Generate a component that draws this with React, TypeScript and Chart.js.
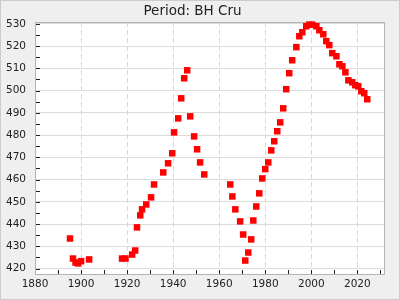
import React, { useEffect, useRef } from "react";
import { Chart, registerables } from "chart.js";

Chart.register(...registerables);

const TITLE = "Period: BH Cru";

const years = [
  1895.2, 1896.5, 1897.6, 1898.7, 1900.0, 1903.5, 1917.8, 1919.3, 1922.2, 1923.5,
  1924.3, 1925.7, 1926.5, 1928.3, 1930.4, 1931.7, 1935.7, 1937.8, 1939.6, 1940.4,
  1942.2, 1943.5, 1944.8, 1946.1, 1947.4, 1949.1, 1950.4, 1951.7, 1953.5, 1964.8,
  1965.7, 1967.0, 1969.1, 1970.4, 1971.3, 1972.6, 1973.9, 1974.8, 1976.1, 1977.4,
  1978.7, 1980.0, 1981.3, 1982.6, 1983.9, 1985.2, 1986.5, 1987.8, 1989.1, 1990.4,
  1991.7, 1993.5, 1994.8, 1996.1, 1997.8, 1999.1, 2000.4, 2002.2, 2003.5, 2005.2,
  2006.5, 2007.8, 2009.1, 2010.9, 2012.2, 2013.5, 2014.8, 2016.1, 2017.8, 2019.1,
  2020.4, 2021.7, 2023.0, 2024.3,
];

const periods = [
  433.5, 424.5, 422.7, 422.3, 423.3, 424.1, 424.5, 424.5, 426.3, 428.1,
  438.5, 443.9, 446.6, 448.8, 452.0, 457.8, 463.2, 467.3, 471.8, 481.2,
  487.5, 496.5, 505.5, 509.1, 488.4, 479.4, 473.6, 467.7, 462.3, 457.8,
  452.4, 446.6, 441.2, 435.3, 423.6, 427.2, 433.1, 441.6, 447.9, 453.8,
  460.5, 464.7, 467.7, 473.1, 477.2, 481.7, 485.7, 492.0, 500.6, 507.8,
  513.6, 519.5, 524.4, 526.2, 528.9, 529.6, 529.6, 528.9, 527.1, 525.3,
  522.2, 520.4, 516.8, 515.4, 511.8, 510.9, 508.2, 504.6, 503.7, 502.4,
  501.9, 499.7, 498.8, 496.1,
];

const X_MIN = 1880;
const X_MAX = 2032;
const X_STEP = 20;
const X_MINOR = 10;
const Y_MIN = 417.1;
const Y_MAX = 530.8;
const Y_STEP = 10;
const Y_MINOR = 5;

const FONT = "'DejaVu Sans', sans-serif";

export default function App() {
  const ref = useRef<HTMLCanvasElement>(null);

  useEffect(() => {
    document.body.style.margin = "0";
    const canvas = ref.current;
    if (!canvas) return;

    const framePlugin = {
      id: "frame",
      beforeDraw(chart: any) {
        const { ctx, width, height, chartArea: a } = chart;
        ctx.save();
        ctx.fillStyle = "#efefef";
        ctx.fillRect(0, 0, width, height);
        ctx.strokeStyle = "#cccccc";
        ctx.lineWidth = 1;
        ctx.strokeRect(0.5, 0.5, width - 1, height - 1);
        ctx.fillStyle = "#ffffff";
        ctx.fillRect(a.left, a.top, a.right - a.left, a.bottom - a.top);
        ctx.restore();
      },
      beforeDatasetsDraw(chart: any) {
        const { ctx, chartArea: a, scales } = chart;
        const xs = scales.x;
        const ys = scales.y;
        ctx.save();
        ctx.strokeStyle = "#222222";
        ctx.lineWidth = 1;
        ctx.beginPath();
        for (let v = Math.ceil(X_MIN / X_MINOR) * X_MINOR; v <= X_MAX; v += X_MINOR) {
          const px = Math.round(xs.getPixelForValue(v)) + 0.5;
          ctx.moveTo(px, a.bottom);
          ctx.lineTo(px, a.bottom - 5);
        }
        for (let v = Math.ceil(Y_MIN / Y_MINOR) * Y_MINOR; v <= Y_MAX; v += Y_MINOR) {
          const py = Math.round(ys.getPixelForValue(v)) + 0.5;
          ctx.moveTo(a.left, py);
          ctx.lineTo(a.left + 5, py);
        }
        ctx.stroke();
        ctx.strokeStyle = "#b4b4b4";
        ctx.lineWidth = 1;
        ctx.strokeRect(
          Math.round(a.left) + 0.5,
          Math.round(a.top) + 0.5,
          Math.round(a.right - a.left) - 1,
          Math.round(a.bottom - a.top) - 1
        );
        ctx.restore();
      },
    };

    const chart = new Chart(canvas, {
      type: "scatter",
      data: {
        datasets: [
          {
            label: TITLE,
            data: years.map((y, i) => ({ x: y, y: periods[i] })),
            pointStyle: "rect",
            pointRadius: 4.6,
            pointHoverRadius: 4.6,
            backgroundColor: "#ff0000",
            borderColor: "#ff0000",
            borderWidth: 0,
            clip: false as any,
          },
        ],
      },
      options: {
        responsive: false,
        animation: false,
        layout: { padding: { left: 0, right: 15, top: 0, bottom: 0 } },
        plugins: {
          legend: { display: false },
          tooltip: { enabled: false },
          title: {
            display: true,
            text: TITLE,
            color: "#222222",
            font: { family: FONT, size: 13.5, weight: "normal", lineHeight: 1.2 },
            padding: { top: 3, bottom: 2.8 },
          },
        },
        scales: {
          x: {
            type: "linear",
            min: X_MIN,
            max: X_MAX,
            afterFit(scale: any) {
              scale.height = 25;
            },
            ticks: {
              stepSize: X_STEP,
              includeBounds: false,
              color: "#222222",
              font: { family: FONT, size: 10.5 },
              padding: 3,
              maxRotation: 0,
              autoSkip: false,
              callback: (v: any) => String(v),
            },
            grid: { color: "#d9d9d9", lineWidth: 1, drawTicks: false },
            border: { display: false, dash: [5, 3] },
          },
          y: {
            type: "linear",
            min: Y_MIN,
            max: Y_MAX,
            afterFit(scale: any) {
              scale.width = 35;
            },
            ticks: {
              stepSize: Y_STEP,
              includeBounds: false,
              color: "#222222",
              font: { family: FONT, size: 10.5 },
              padding: 9,
              autoSkip: false,
              callback: (v: any) => String(v),
            },
            grid: { color: "#dcdcdc", lineWidth: 1, drawTicks: false },
            border: { display: false },
          },
        },
      },
      plugins: [framePlugin],
    } as any);

    return () => chart.destroy();
  }, []);

  return <canvas ref={ref} width={400} height={300} style={{ display: "block" }} />;
}
